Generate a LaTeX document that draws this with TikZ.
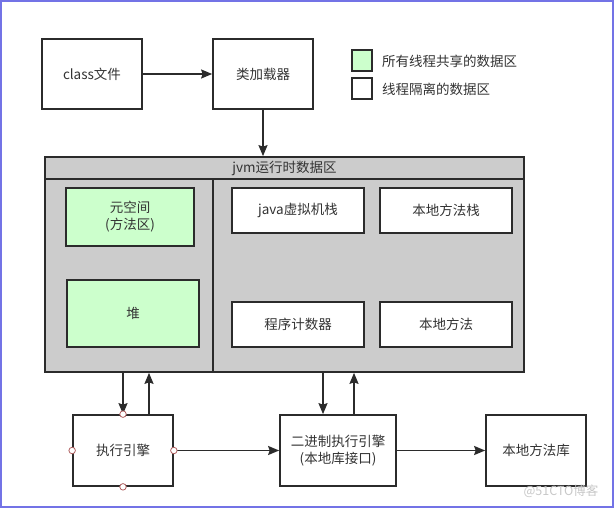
\documentclass[tikz,border=0pt]{standalone}
\usepackage{fontspec}
\setmainfont{Noto Sans CJK SC}
\usetikzlibrary{arrows.meta,calc}
\definecolor{lineC}{HTML}{2B2B2B}
\definecolor{grayF}{HTML}{CCCCCC}
\definecolor{greenF}{HTML}{CCFFCC}
\definecolor{frameC}{HTML}{7373E6}
\definecolor{portC}{HTML}{B06060}
\definecolor{wmC}{HTML}{C8C8C8}
\tikzset{
  box/.style={draw=lineC, line width=1.7pt, fill=white, align=center, inner sep=0pt,
    font=\fontsize{13.5}{17}\selectfont, text=black!80},
  greenbox/.style={box, fill=greenF},
  arr/.style={draw=lineC, line width=1.7pt, -{Stealth[length=11pt,width=9pt,inset=1.5pt]}},
  port/.style={circle, draw=portC, fill=white, line width=0.8pt, minimum size=6.5pt, inner sep=0pt},
  lbl/.style={font=\fontsize{13.5}{17}\selectfont, text=black!80, inner sep=0pt}
}
\begin{document}
\begin{tikzpicture}[x=1pt,y=-1pt]
\useasboundingbox (0,0) rectangle (614,508);
\fill[white] (0,0) rectangle (614,508);
\draw[frameC, line width=2pt] (1,1) rectangle (613,507);

% top row
\node[box, minimum width=100pt, minimum height=70pt] (cls) at (92,74) {class文件};
\node[box, minimum width=100pt, minimum height=70pt] (ldr) at (263,74) {类加载器};

% legend
\node[box, fill=greenF, minimum width=20pt, minimum height=21pt] (lg1) at (362,60.5) {};
\node[box, minimum width=20pt, minimum height=21pt] (lg2) at (362,88.5) {};
\node[lbl, anchor=west] (lt1) at (382,61) {所有线程共享的数据区};
\node[lbl, anchor=west] (lt2) at (382,89) {线程隔离的数据区};

% jvm area
\node[box, fill=grayF, minimum width=479pt, minimum height=215pt] (jvm) at (284.5,264.5) {};
\coordinate (tl) at (45,179);
\coordinate (tr) at (524,179);
\coordinate (dv1) at (213,179);
\coordinate (dv2) at (213,372);
\draw[lineC, line width=1.7pt] (tl) -- (tr);
\draw[lineC, line width=1.7pt] (dv1) -- (dv2);
\node[lbl] (jvmt) at (284.5,168) {jvm运行时数据区};

\node[greenbox, minimum width=128pt, minimum height=58pt] (meta) at (130,217) {元空间\\(方法区)};
\node[greenbox, minimum width=132pt, minimum height=67pt] (heap) at (133,313.5) {堆};
\node[box, minimum width=132pt, minimum height=45pt] (jst) at (298,210.5) {java虚拟机栈};
\node[box, minimum width=132pt, minimum height=45pt] (nst) at (446,210.5) {本地方法栈};
\node[box, minimum width=132pt, minimum height=45pt] (pc) at (298,324.5) {程序计数器};
\node[box, minimum width=132pt, minimum height=45pt] (nat) at (446,324.5) {本地方法};

% bottom row
\node[box, minimum width=100pt, minimum height=71pt] (exe) at (123,450.5) {执行引擎};
\node[box, minimum width=116pt, minimum height=71pt] (bin) at (338,450.5) {二进制执行引擎\\(本地库接口)};
\node[box, minimum width=100pt, minimum height=71pt] (lib) at (536,450.5) {本地方法库};

% connectors
\draw[arr] (cls) -- (ldr);
\draw[arr] (ldr.south) -- (ldr.south |- jvm.north);

\draw[arr] (exe.north |- jvm.south) -- (exe.north);
\coordinate (exeup) at ($(exe.north)+(26,0)$);
\draw[arr] (exeup) -- (exeup |- jvm.south);

\coordinate (bindn) at ($(bin.north)+(-15,0)$);
\coordinate (binup) at ($(bin.north)+(16,0)$);
\draw[arr] (bindn |- jvm.south) -- (bindn);
\draw[arr] (binup) -- (binup |- jvm.south);

\draw[arr] (exe.east) -- (bin.west);
\draw[arr] (bin.east) -- (lib.west);

% ports
\node[port] (p1) at (exe.north) {};
\node[port] (p2) at (exe.south) {};
\node[port] (p3) at (exe.west) {};
\node[port] (p4) at (exe.east) {};

% watermark
\node[font=\fontsize{12.5}{14}\selectfont, text=wmC, inner sep=0pt] (wm) at (561,491) {@51CTO博客};
\end{tikzpicture}
\end{document}
